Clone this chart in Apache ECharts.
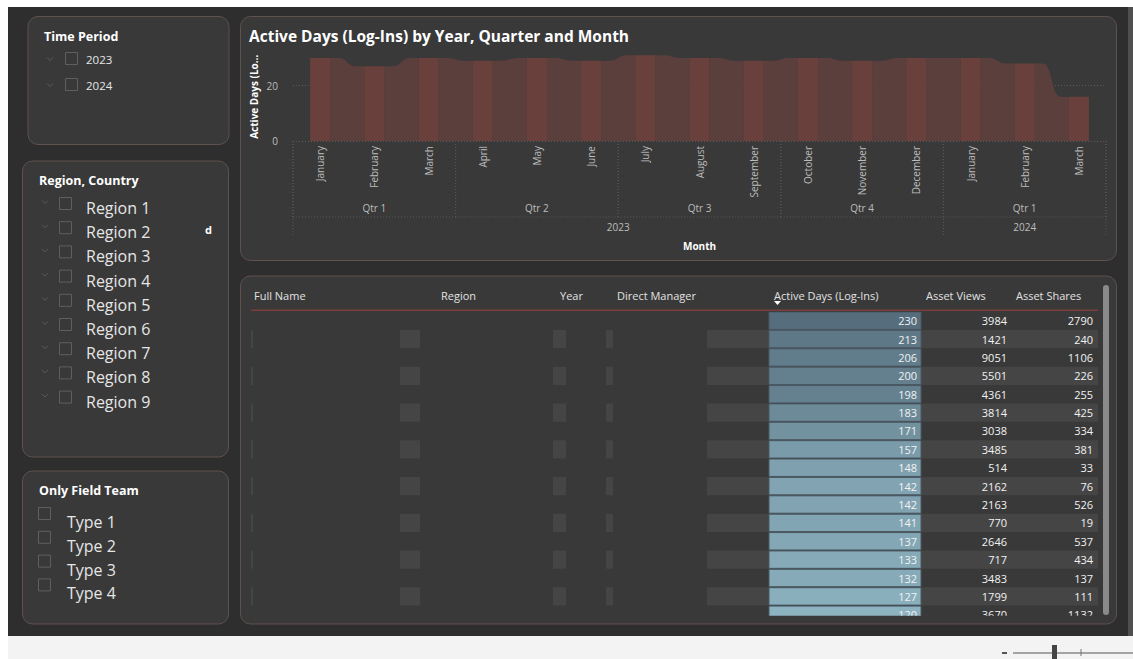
<!DOCTYPE html>
<html>
<head>
<meta charset="utf-8">
<script src="https://cdn.jsdelivr.net/npm/echarts@6.0.0/dist/echarts.min.js"></script>
<style>
  html, body { margin: 0; padding: 0; background: #ffffff; }
  #main { width: 1133px; height: 659px; }
</style>
</head>
<body>
<div id="main"></div>
<script>
// chart data
const months = ['January', 'February', 'March', 'April', 'May', 'June', 'July', 'August',
  'September', 'October', 'November', 'December', 'January', 'February', 'March'];
const activeDays = [30, 27, 30, 29, 30, 29, 31, 30, 29, 30, 29, 30, 30, 28, 16];
const quarters = ['Qtr 1', 'Qtr 2', 'Qtr 3', 'Qtr 4', 'Qtr 1'];
const quarterSpans = [[0, 2], [3, 5], [6, 8], [9, 11], [12, 14]];
const years = ['2023', '2024'];
const yearSpans = [[0, 11], [12, 14]];

// table data
const tableHeaders = ['Full Name', 'Region', 'Year', 'Direct Manager', 'Active Days (Log-Ins)', 'Asset Views', 'Asset Shares'];
const tableActiveDays = [230, 213, 206, 200, 198, 183, 171, 157, 148, 142, 142, 141, 137, 133, 132, 127, 120];
const assetViews = [3984, 1421, 9051, 5501, 4361, 3814, 3038, 3485, 514, 2162, 2163, 770, 2646, 717, 3483, 1799, 3670];
const assetShares = [2790, 240, 1106, 226, 255, 425, 334, 381, 33, 76, 526, 19, 537, 434, 137, 111, 1132];

// slicers
const periods = ['2023', '2024'];
const regions = ['Region 1', 'Region 2', 'Region 3', 'Region 4', 'Region 5', 'Region 6', 'Region 7', 'Region 8', 'Region 9'];
const types = ['Type 1', 'Type 2', 'Type 3', 'Type 4'];

const FONT = '"Open Sans", Lato, sans-serif';
const PANEL = '#393939';
const PANEL_LINE = '#5e514e';

let myChart = echarts.init(document.getElementById('main'), null, { renderer: 'svg' });

function text(t, x, y, size, color, weight, align) {
  return {
    type: 'text', z: 10,
    style: {
      text: t, x: x, y: y, fill: color,
      font: (weight || 'normal') + ' ' + size + 'px ' + FONT,
      textAlign: align || 'left', textVerticalAlign: 'middle'
    }
  };
}
function box(x, y, w, h, fill, extra) {
  return Object.assign({ type: 'rect', shape: { x: x, y: y, width: w, height: h }, style: { fill: fill } }, extra || {});
}
function panel(x, y, w, h) {
  return { type: 'rect', z: -10, shape: { x: x, y: y, width: w, height: h, r: 10 }, style: { fill: PANEL, stroke: PANEL_LINE, lineWidth: 1 } };
}
function checkbox(x, y) {
  return { type: 'rect', z: 10, shape: { x: x, y: y, width: 12, height: 12 }, style: { fill: 'none', stroke: '#5f5f5f', lineWidth: 1 } };
}
function chevron(x, y) {
  return { type: 'polyline', z: 10, shape: { points: [[x - 3, y - 1.5], [x, y + 1.5], [x + 3, y - 1.5]] }, style: { fill: null, stroke: '#5c5c5c', lineWidth: 1 } };
}

let graphics = [
  box(0, 0, 1133, 659, '#ffffff', { z: -30 }),
  box(8, 7, 1125, 629, '#2e2e2e', { z: -25 }),
  box(1128, 7, 5, 629, '#4f4f4f', { z: -24 }),
  box(8, 636, 1125, 23, '#f3f3f3', { z: -25 }),
  // zoom slider
  box(1002, 652, 5, 2, '#555555', { z: 5 }),
  box(1013, 652.5, 120, 1, '#555555', { z: 5 }),
  box(1052, 645, 5, 14, '#444444', { z: 6 }),
  box(1080.5, 649, 1, 7, '#777777', { z: 6 }),
  panel(28, 16.5, 201, 128),
  panel(22.5, 161, 206, 296),
  panel(22.5, 471, 206, 153),
  panel(240.5, 16.5, 876, 244),
  panel(240.5, 276, 876, 348),
  text('Time Period', 44, 36, 12.5, '#ffffff', 'bold'),
  text('Region, Country', 39, 180, 12.5, '#ffffff', 'bold'),
  text('d', 205, 229, 11, '#ffffff', 'bold'),
  text('Only Field Team', 39, 490, 12.5, '#ffffff', 'bold')
];

periods.forEach(function (p, i) {
  let y = 59 + i * 26;
  graphics.push(chevron(50, y), checkbox(65.5, y - 6.5), text(p, 86, y, 11.5, '#e6e6e6'));
});
regions.forEach(function (r, i) {
  let y = 208 + i * 24.2;
  graphics.push(chevron(45, y - 6), checkbox(59.5, y - 10.5), text(r, 86, y, 16, '#e6e6e6'));
});
types.forEach(function (t, i) {
  let y = 522 + i * 23.8;
  graphics.push(checkbox(38.5, y - 14.5), text(t, 67, y, 16, '#e6e6e6'));
});

// table header
const headerX = [254, 441, 560, 617, 774, 926, 1016];
tableHeaders.forEach(function (h, i) {
  graphics.push(text(h, headerX[i], 295, 11, '#e2e2e2'));
});
graphics.push(
  { type: 'polygon', z: 10, shape: { points: [[774, 301], [781, 301], [777.5, 305]] }, style: { fill: '#ffffff' } },
  box(251, 309.5, 847, 1.5, '#7b3e3a', { z: 10 }),
  { type: 'rect', z: 10, shape: { x: 1103, y: 285, width: 6, height: 330, r: 3 }, style: { fill: '#8a8a8a' } }
);

// stripe segments of odd rows (relative to table left)
const stripeCols = [[0, 2], [149, 169], [302, 315], [355, 362], [456, 518], [670, 847]];

let option = {
  backgroundColor: 'transparent',
  textStyle: { fontFamily: FONT },
  title: {
    text: 'Active Days (Log-Ins) by Year, Quarter and Month',
    left: 244, top: 23,
    textStyle: { color: '#ffffff', fontSize: 15.5, fontWeight: 'bold', fontFamily: FONT }
  },
  graphic: { elements: graphics },
  visualMap: {
    show: false, type: 'continuous', seriesIndex: 3, dimension: 1,
    min: 120, max: 230,
    inRange: { color: ['#8db2c0', '#556d7c'] }
  },
  grid: [
    { left: 293, top: 52.5, width: 813, height: 88.5 },
    { left: 251, top: 311.5, width: 847, height: 304.2 }
  ],
  xAxis: [
    {
      type: 'category', gridIndex: 0, data: months,
      axisLine: { show: false }, axisTick: { show: false },
      axisLabel: { rotate: 90, interval: 0, color: '#bdbdbd', fontSize: 10, margin: 5 },
      name: 'Month', nameLocation: 'middle', nameGap: 100,
      nameTextStyle: { color: '#ffffff', fontWeight: 'bold', fontSize: 10 }
    },
    { type: 'value', gridIndex: 1, min: 0, max: 847, show: false }
  ],
  yAxis: [
    {
      type: 'value', gridIndex: 0, min: 0, max: 32, interval: 20,
      axisLine: { show: false }, axisTick: { show: false },
      splitLine: { showMaxLine: false, lineStyle: { color: '#5a5a5a', type: [1, 2] } },
      axisLabel: { color: '#bdbdbd', fontSize: 10, margin: 15, showMaxLabel: false },
      name: 'Active Days (Lo…', nameLocation: 'middle', nameRotate: 90, nameGap: 34,
      nameMoveOverlap: false,
      nameTextStyle: { color: '#ffffff', fontWeight: 'bold', fontSize: 10 }
    },
    { type: 'value', gridIndex: 1, min: 0, max: 16.55, inverse: true, show: false }
  ],
  series: [
    {
      type: 'bar', xAxisIndex: 0, yAxisIndex: 0, data: activeDays,
      barWidth: 20, z: 3,
      itemStyle: { color: '#6a403d' }
    },
    {
      // ribbons between the columns
      type: 'custom', xAxisIndex: 0, yAxisIndex: 0, z: 2,
      data: activeDays.slice(0, -1).map(function (v, i) { return [i, v, activeDays[i + 1]]; }),
      encode: { x: 0, y: [1, 2] },
      renderItem: function (params, api) {
        let i = api.value(0);
        let a = api.coord([i, api.value(1)]);
        let b = api.coord([i + 1, api.value(2)]);
        let base = api.coord([i, 0])[1];
        let xr = a[0] + 10, xl = b[0] - 10;
        let g = xl - xr, xm = (xr + xl) / 2;
        let d = 'M' + xr + ',' + base + ' L' + xr + ',' + a[1] + ' L' + (xr + g * 0.25) + ',' + a[1] +
          ' C' + xm + ',' + a[1] + ' ' + xm + ',' + b[1] + ' ' + (xl - g * 0.25) + ',' + b[1] +
          ' L' + xl + ',' + b[1] + ' L' + xl + ',' + base + ' Z';
        return { type: 'path', shape: { pathData: d }, style: { fill: '#5b3f3d' } };
      }
    },
    {
      // quarter / year hierarchy below the month labels
      type: 'custom', xAxisIndex: 0, yAxisIndex: 0, clip: false, z: 1, silent: true,
      data: quarterSpans.map(function (s) { return [s[0], s[1], 0]; })
        .concat(yearSpans.map(function (s) { return [s[0], s[1], 1]; })),
      encode: { x: [0, 1] },
      renderItem: function (params, api) {
        let lvl = api.value(2);
        let label = lvl === 0 ? quarters[params.dataIndex] : years[params.dataIndex - quarters.length];
        let bw = api.size([1, 0])[0];
        let p0 = api.coord([api.value(0), 0]);
        let p1 = api.coord([api.value(1), 0]);
        let x0 = p0[0] - bw / 2, x1 = p1[0] + bw / 2, y = p0[1];
        let depth = lvl === 0 ? 76 : 95;
        let ls = { stroke: '#585858', lineWidth: 1, lineDash: [1, 2] };
        let children = [
          { type: 'line', shape: { x1: x0, y1: y, x2: x0, y2: y + depth }, style: ls },
          { type: 'line', shape: { x1: x1, y1: y, x2: x1, y2: y + depth }, style: ls },
          {
            type: 'text', style: {
              text: label, x: (x0 + x1) / 2, y: y + (lvl === 0 ? 67 : 86),
              textAlign: 'center', textVerticalAlign: 'middle', fill: '#bdbdbd', font: '10px ' + FONT
            }
          }
        ];
        if (lvl === 0) {
          children.push({ type: 'line', shape: { x1: x0, y1: y + 76, x2: x1, y2: y + 76 }, style: ls });
        }
        return { type: 'group', children: children };
      }
    },
    {
      // table rows
      type: 'custom', xAxisIndex: 1, yAxisIndex: 1, clip: true, silent: true,
      data: tableActiveDays.map(function (v, i) { return [i, v, assetViews[i], assetShares[i]]; }),
      encode: { y: 0, x: 1 },
      renderItem: function (params, api) {
        let r = api.value(0);
        let top = api.coord([0, r])[1], bot = api.coord([0, r + 1])[1];
        let mid = (top + bot) / 2;
        let X = function (c) { return api.coord([c, r])[0]; };
        let children = [];
        if (r % 2 === 1) {
          stripeCols.forEach(function (s) {
            children.push({ type: 'rect', shape: { x: X(s[0]), y: top, width: X(s[1]) - X(s[0]), height: bot - top }, style: { fill: '#454545' } });
          });
        }
        children.push({
          type: 'rect', shape: { x: X(518), y: top + 0.5, width: X(670) - X(518), height: bot - top - 1 },
          style: { fill: api.visual('color'), stroke: '#4b5964', lineWidth: 1 }
        });
        let nums = [[api.value(1), 666], [api.value(2), 756], [api.value(3), 842]];
        nums.forEach(function (n) {
          children.push({
            type: 'text', style: {
              text: String(n[0]), x: X(n[1]), y: mid, textAlign: 'right', textVerticalAlign: 'middle',
              fill: '#f2f2f2', font: '11px ' + FONT
            }
          });
        });
        return { type: 'group', children: children };
      }
    }
  ]
};

myChart.setOption(option);
</script>
</body>
</html>
